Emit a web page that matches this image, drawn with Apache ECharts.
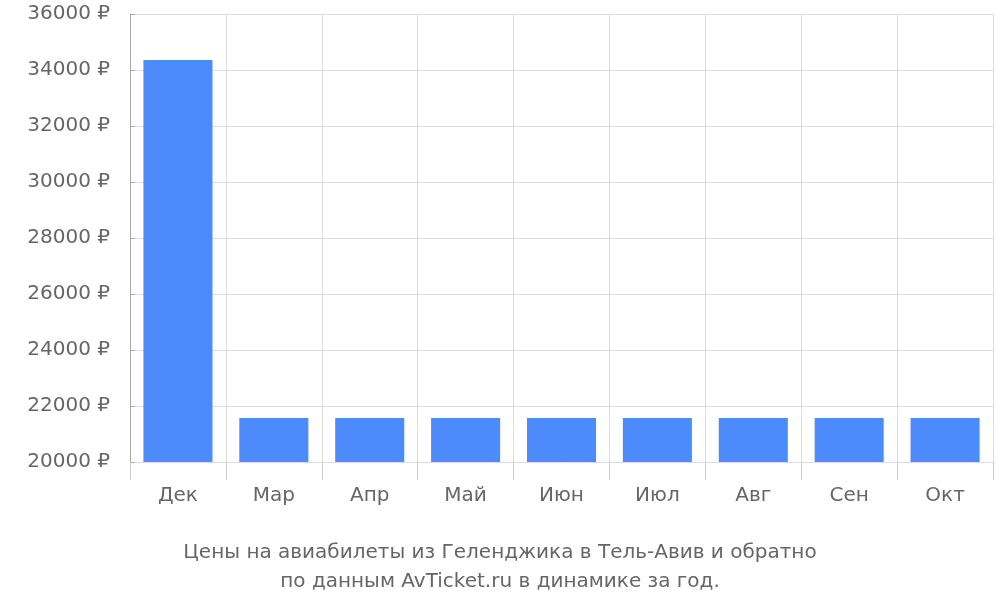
<!DOCTYPE html>
<html><head><meta charset="utf-8">
<script src="https://cdn.jsdelivr.net/npm/echarts@6/dist/echarts.min.js"></script>
<style>body{margin:0}#c{width:1000px;height:600px}</style></head>
<body><div id="c"></div>
<script>
const categories = ['Дек','Мар','Апр','Май','Июн','Июл','Авг','Сен','Окт'];
const prices = [34360,21570,21570,21570,21570,21570,21570,21570,21570];
const titleLines = ['Цены на авиабилеты из Геленджика в Тель-Авив и обратно','по данным AvTicket.ru в динамике за год.'];
const chart = echarts.init(document.getElementById('c'));
chart.setOption({
  animation:false,
  textStyle:{fontFamily:'DejaVu Sans'},
  title:{text:titleLines.join('\n'),left:'center',top:533,textStyle:{fontSize:20,fontWeight:'normal',color:'#666',lineHeight:29,fontFamily:'DejaVu Sans'}},
  grid:{left:130,right:7,top:14,bottom:138},
  xAxis:{type:'category',data:categories,
    axisLine:{show:false},
    axisTick:{show:true,length:18,lineStyle:{color:'#ccc'}},
    splitLine:{show:true,lineStyle:{color:'#ddd'}},
    axisLabel:{fontSize:20,color:'#666',margin:24}},
  yAxis:{type:'value',min:20000,max:36000,interval:2000,
    axisLine:{show:true,lineStyle:{color:'#aaa'}},
    axisTick:{show:true,length:5,inside:true,lineStyle:{color:'#aaa'}},
    splitLine:{lineStyle:{color:'#ddd'}},
    axisLabel:{fontSize:20,color:'#666',margin:20,formatter:v=>v+' ₽'}},
  series:[{type:'bar',data:prices,barCategoryGap:'28%',itemStyle:{color:'#4d8afc'}}]
});
</script></body></html>
